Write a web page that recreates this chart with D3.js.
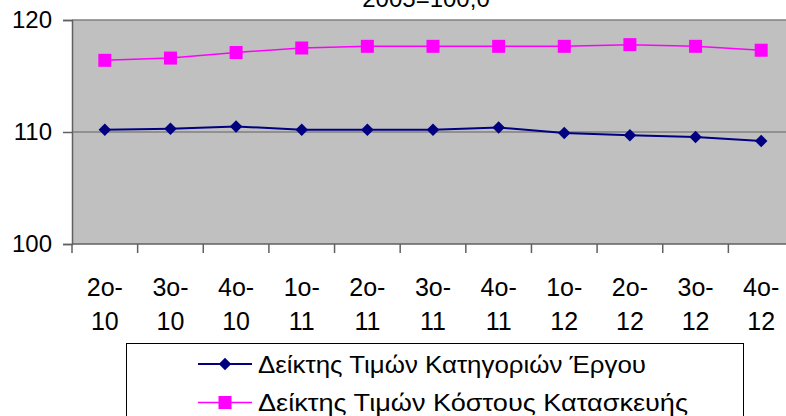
<!DOCTYPE html>
<html>
<head>
<meta charset="utf-8">
<script src="https://cdn.jsdelivr.net/npm/d3@7"></script>
<style>
  html, body { margin: 0; padding: 0; background: #fff; }
  svg { display: block; font-family: "Liberation Sans", Arial, sans-serif; }
</style>
</head>
<body>
<div id="chart"></div>
<script>
const quarters = ['2o-10', '3o-10', '4o-10', '1o-11', '2o-11', '3o-11', '4o-11', '1o-12', '2o-12', '3o-12', '4o-12'];
const categoryIndex = [110.2, 110.3, 110.5, 110.2, 110.2, 110.2, 110.4, 109.9, 109.7, 109.55, 109.2];
const costIndex = [116.4, 116.6, 117.1, 117.5, 117.65, 117.65, 117.65, 117.65, 117.8, 117.65, 117.3];
const yTicks = [100, 110, 120];
const seriesNames = ['Δείκτης Τιμών Κατηγοριών Έργου', 'Δείκτης Τιμών Κόστους Κατασκευής'];
const titleText = '2005=100,0';

const w = 786;
const h = 416;
const m = { t: 20, r: -8, b: 172, l: 72 };

const svg = d3.select('#chart').append('svg').attr('width', w).attr('height', h);

const x = d3.scaleBand().domain(quarters).range([m.l, w - m.r]);
const y = d3.scaleLinear().domain([100, 120]).range([h - m.b, m.t]);

// title (mostly cut off at the top, as in the original)
svg.append('text')
  .attr('x', 426)
  .attr('y', 7)
  .attr('text-anchor', 'middle')
  .attr('font-size', 24)
  .text(titleText);

// plot background
svg.append('rect')
  .attr('x', m.l)
  .attr('y', y(120))
  .attr('width', x.range()[1] - m.l)
  .attr('height', y(100) - y(120))
  .attr('fill', '#c0c0c0');

// gridlines
svg.append('g')
  .selectAll('line')
  .data(yTicks.filter((d) => d > 100))
  .join('line')
  .attr('x1', m.l)
  .attr('x2', x.range()[1])
  .attr('y1', (d) => y(d))
  .attr('y2', (d) => y(d))
  .attr('stroke', '#808080')
  .attr('stroke-width', 1.5);

// y axis
const yAxis = svg.append('g')
  .attr('transform', `translate(${m.l},0)`)
  .call(d3.axisLeft(y).tickValues(yTicks).tickSize(9).tickPadding(11));
yAxis.select('.domain').attr('stroke', '#606060').attr('stroke-width', 1.5);
yAxis.selectAll('.tick line').attr('stroke', '#606060').attr('stroke-width', 1.5);
yAxis.selectAll('text').attr('font-size', 24).attr('fill', '#000').attr('font-family', '"Liberation Sans", Arial, sans-serif');

// x axis: ticks at category boundaries
const bounds = quarters.map((q) => x(q)).concat([x.range()[1]]);
const xAxis = svg.append('g');
xAxis.append('line')
  .attr('x1', m.l)
  .attr('x2', x.range()[1])
  .attr('y1', y(100))
  .attr('y2', y(100))
  .attr('stroke', '#606060')
  .attr('stroke-width', 1.5);
xAxis.selectAll('line.tk')
  .data(bounds)
  .join('line')
  .attr('class', 'tk')
  .attr('x1', (d) => d)
  .attr('x2', (d) => d)
  .attr('y1', y(100))
  .attr('y2', y(100) + 9)
  .attr('stroke', '#606060')
  .attr('stroke-width', 1.5);

const labels = xAxis.selectAll('text.lbl')
  .data(quarters)
  .join('text')
  .attr('class', 'lbl')
  .attr('text-anchor', 'middle')
  .attr('font-size', 25)
  .attr('transform', (d) => `translate(${x(d) + x.bandwidth() / 2},0)`);
labels.append('tspan')
  .attr('x', 0)
  .attr('y', 295.5)
  .text((d) => d.split('-')[0] + '-');
labels.append('tspan')
  .attr('x', 0)
  .attr('y', 330)
  .text((d) => d.split('-')[1]);

const cx = (i) => x(quarters[i]) + x.bandwidth() / 2;

const line = d3.line()
  .x((d, i) => cx(i))
  .y((d) => y(d));

svg.append('path')
  .datum(costIndex)
  .attr('fill', 'none')
  .attr('stroke', '#ff00ff')
  .attr('stroke-width', 1.5)
  .attr('d', line);

svg.append('path')
  .datum(categoryIndex)
  .attr('fill', 'none')
  .attr('stroke', '#000080')
  .attr('stroke-width', 2)
  .attr('d', line);

const diamond = d3.symbol().type(d3.symbolSquare).size(78);
const square = d3.symbol().type(d3.symbolSquare).size(169);

svg.append('g')
  .selectAll('path')
  .data(costIndex)
  .join('path')
  .attr('d', square)
  .attr('transform', (d, i) => `translate(${cx(i)},${y(d)})`)
  .attr('fill', '#ff00ff');

svg.append('g')
  .selectAll('path')
  .data(categoryIndex)
  .join('path')
  .attr('d', diamond)
  .attr('transform', (d, i) => `translate(${cx(i)},${y(d)}) rotate(45)`)
  .attr('fill', '#000080');

// legend
const legend = svg.append('g');
legend.append('rect')
  .attr('x', 126.5)
  .attr('y', 343.5)
  .attr('width', 617)
  .attr('height', 100)
  .attr('fill', '#fff')
  .attr('stroke', '#000')
  .attr('stroke-width', 1);

const legendColors = ['#000080', '#ff00ff'];
const legendRows = [364, 402.5];
const legendWidths = [388, 430];
seriesNames.forEach((name, i) => {
  const g = legend.append('g').attr('transform', `translate(0,${legendRows[i]})`);
  g.append('line')
    .attr('x1', 198)
    .attr('x2', 252)
    .attr('stroke', legendColors[i])
    .attr('stroke-width', i === 0 ? 2 : 1.5);
  g.append('path')
    .attr('d', i === 0 ? diamond : square)
    .attr('transform', `translate(225,0)${i === 0 ? ' rotate(45)' : ''}`)
    .attr('fill', legendColors[i]);
  g.append('text')
    .attr('x', 258)
    .attr('y', 8.5)
    .attr('font-size', 24)
    .attr('textLength', legendWidths[i])
    .attr('lengthAdjust', 'spacingAndGlyphs')
    .text(name);
});
</script>
</body>
</html>
